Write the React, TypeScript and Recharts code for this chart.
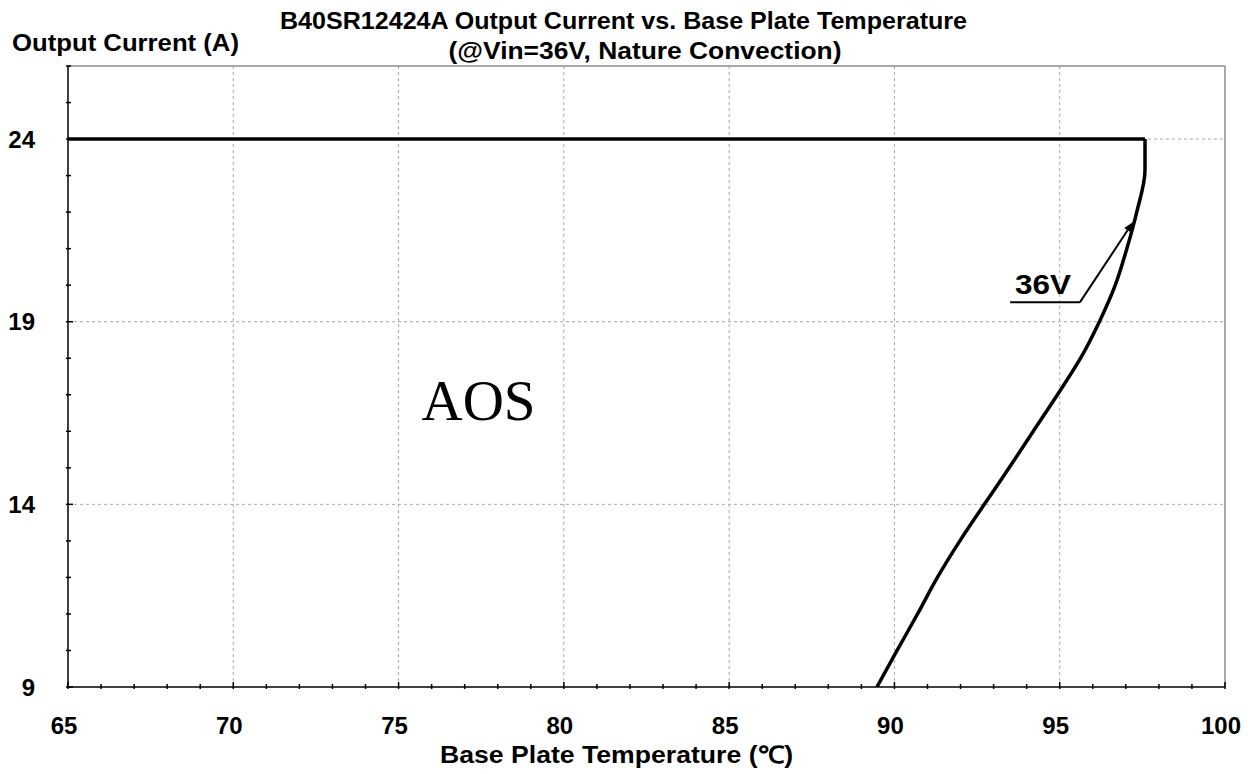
import React from "react";
import { LineChart, Line, XAxis, YAxis, ReferenceLine, ReferenceDot } from "recharts";

// derating curve @ Vin=36V
// flat part at full load
const flatTemp = [65, 97.58];
const flatCur = [24, 24];
// derating part, from the knee down to 9 A
const curveTemp = [97.58, 97.58, 97.33, 97.03, 96.68, 96.2, 95.63, 94.93, 94.2, 93.47, 92.72, 91.98, 91.3, 90.7, 90.08, 89.47];
const curveCur = [24, 23.15, 22, 21, 20, 19, 18, 17, 16, 15, 14, 13, 12, 11, 10, 9];

const xTicks = Array.from({ length: 36 }, (_, k) => 65 + k);
const xLabels = [65, 70, 75, 80, 85, 90, 95, 100];
const yTicks = Array.from({ length: 18 }, (_, k) => 9 + k);
const yLabels = [9, 14, 19, 24];
const xGrid = [70, 75, 80, 85, 90, 95];
const yGrid = [14, 19, 24];

const flatData = flatTemp.map((t, k) => ({ t, cur: flatCur[k] }));
const curveData = curveTemp.map((t, k) => ({ t, cur: curveCur[k] }));

const FONT = "'Liberation Sans', Arial, sans-serif";
const GRID = "#a8a8a8";

const XTick = (props: any) => {
  const { x, y, payload } = props;
  const v = payload.value;
  const major = xLabels.includes(v);
  return (
    <g>
      <line x1={x} y1={y} x2={x} y2={y - (major ? 7 : 5)} stroke="#000" strokeWidth={1.5} />
      {major && (
        <text x={x - 4} y={y + 45} textAnchor="middle" fontFamily={FONT} fontWeight="bold" fontSize={24} fill="#000">
          {v}
        </text>
      )}
    </g>
  );
};

const YTick = (props: any) => {
  const { x, y, payload } = props;
  const v = payload.value;
  const major = yLabels.includes(v);
  return (
    <g>
      <line x1={x} y1={y} x2={x + (major ? 7 : 5)} y2={y} stroke="#000" strokeWidth={1.5} />
      {major && (
        <text x={x - 31} y={y + 8.5} textAnchor="end" fontFamily={FONT} fontWeight="bold" fontSize={24} fill="#000">
          {v}
        </text>
      )}
    </g>
  );
};

const ArrowLine = (props: any) => {
  const { x1, y1, x2, y2 } = props;
  const a = Math.atan2(y2 - y1, x2 - x1);
  const len = 10;
  const w = 4;
  const bx = x2 - len * Math.cos(a);
  const by = y2 - len * Math.sin(a);
  const px = -Math.sin(a) * w;
  const py = Math.cos(a) * w;
  return (
    <g>
      <line x1={x1} y1={y1} x2={bx} y2={by} stroke="#000" strokeWidth={2} />
      <polygon points={`${x2},${y2} ${bx + px},${by + py} ${bx - px},${by - py}`} fill="#000" />
    </g>
  );
};

export default function App() {
  return (
    <div style={{ position: "absolute", left: 0, top: 0, width: 1255, height: 774, background: "#fff" }}>
      <LineChart width={1255} height={774} margin={{ top: 66, right: 30, bottom: 0, left: 0 }}>
        <XAxis
          type="number"
          dataKey="t"
          domain={[65, 100]}
          ticks={xTicks}
          interval={0}
          height={87}
          tickSize={0}
          tickLine={false}
          tick={<XTick />}
          axisLine={{ stroke: "#000", strokeWidth: 1.5 }}
          allowDataOverflow
        />
        <YAxis
          type="number"
          domain={[9, 26]}
          ticks={yTicks}
          interval={0}
          width={68}
          tickSize={0}
          tickLine={false}
          tick={<YTick />}
          axisLine={{ stroke: "#000", strokeWidth: 1.5 }}
          allowDataOverflow
        />
        {xGrid.map((v) => (
          <ReferenceLine key={"gx" + v} x={v} stroke={GRID} strokeDasharray="3 3" />
        ))}
        {yGrid.map((v) => (
          <ReferenceLine key={"gy" + v} y={v} stroke={GRID} strokeDasharray="3 3" />
        ))}
        <ReferenceLine y={26} stroke="#8c8c8c" strokeWidth={1.5} />
        <ReferenceLine x={100} stroke="#8c8c8c" strokeWidth={1.5} />
        <Line
          data={flatData}
          type="linear"
          dataKey="cur"
          stroke="#000"
          strokeWidth={3.5}
          dot={false}
          activeDot={false}
          isAnimationActive={false}
        />
        <Line
          data={curveData}
          type="monotoneY"
          dataKey="cur"
          stroke="#000"
          strokeWidth={3.5}
          strokeLinejoin="miter"
          dot={false}
          activeDot={false}
          isAnimationActive={false}
        />
        <ReferenceLine
          segment={[{ x: 93.5, y: 19.53 }, { x: 95.61, y: 19.53 }]}
          stroke="#000"
          strokeWidth={2}
        />
        <ReferenceLine
          segment={[{ x: 95.61, y: 19.53 }, { x: 97.22, y: 21.73 }]}
          shape={<ArrowLine />}
        />
        <ReferenceDot
          x={93.65}
          y={19.745}
          r={0}
          shape={(p: any) => (
            <text x={p.cx} y={p.cy} fontFamily={FONT} fontWeight="bold" fontSize={27} textLength={56} lengthAdjust="spacingAndGlyphs" fill="#000">
              36V
            </text>
          )}
        />
        <ReferenceDot
          x={77.42}
          y={16.31}
          r={0}
          shape={(p: any) => (
            <text x={p.cx} y={p.cy} textAnchor="middle" fontFamily="'Liberation Serif', 'Times New Roman', serif" fontSize={57} fill="#000">
              AOS
            </text>
          )}
        />
      </LineChart>
      <svg width={1255} height={774} style={{ position: "absolute", left: 0, top: 0, pointerEvents: "none" }}>
        <g fontFamily={FONT} fontWeight="bold" fontSize={24} fill="#000">
          <text x={623.5} y={28.5} textAnchor="middle" textLength={687} lengthAdjust="spacingAndGlyphs">
            B40SR12424A Output Current vs. Base Plate Temperature
          </text>
          <text x={645} y={59} textAnchor="middle" textLength={393} lengthAdjust="spacingAndGlyphs">
            (@Vin=36V, Nature Convection)
          </text>
          <text x={12} y={51} textLength={227} lengthAdjust="spacingAndGlyphs">
            Output Current (A)
          </text>
          <text x={616.5} y={763} textAnchor="middle" textLength={353} lengthAdjust="spacingAndGlyphs">
            Base Plate Temperature (℃)
          </text>
        </g>
      </svg>
    </div>
  );
}
